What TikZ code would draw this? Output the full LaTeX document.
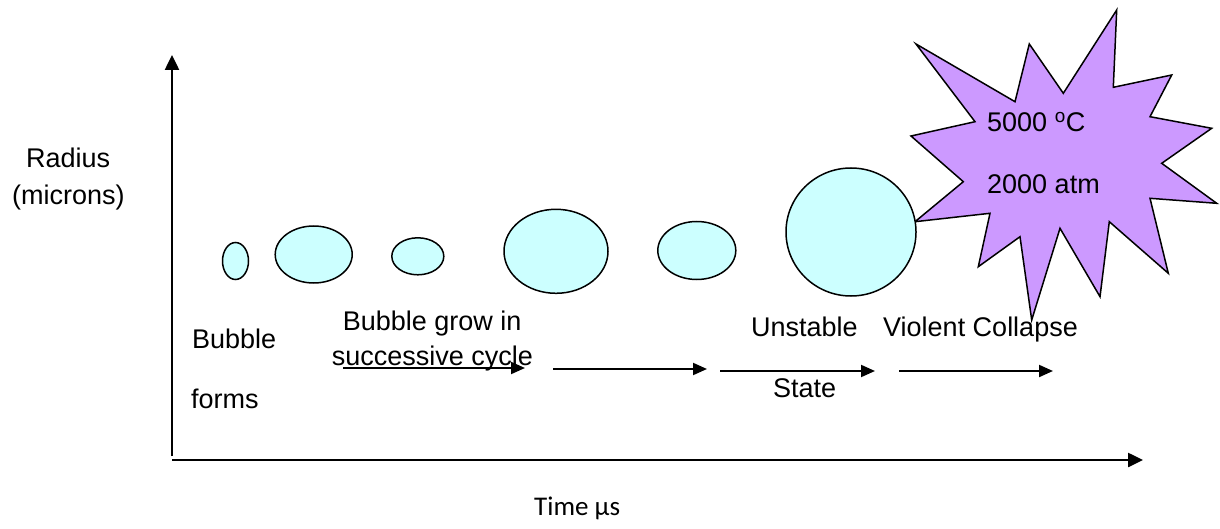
\documentclass[tikz,border=0pt]{standalone}
\usepackage{fontspec}
\setmainfont{Liberation Sans}
\newfontfamily\calibri{Carlito}
\usetikzlibrary{shapes.geometric,arrows.meta}

\definecolor{bubblecyan}{HTML}{CCFFFF}
\definecolor{burstviolet}{HTML}{CC99FF}

\tikzset{
  bubble/.style={ellipse, draw, line width=1.5pt, fill=bubblecyan, inner sep=0pt},
  burst/.style={draw, line width=1.5pt, fill=burstviolet, line join=miter},
  flow/.style={line width=2pt, -{Triangle[length=14pt,width=12pt]}},
  axis/.style={line width=2.5pt, -{Triangle[length=15pt,width=14pt]}},
  lbl/.style={anchor=base west, inner sep=0pt, font=\fontsize{27}{32}\selectfont}
}

\begin{document}
\begin{tikzpicture}[x=1pt, y=-1pt]
    \useasboundingbox (0,0) rectangle (1220,529);

    \coordinate (origin) at (172,460);
    \coordinate (ytop) at (172,55);
    \coordinate (ybot) at (172,456);
    \coordinate (xend) at (1143,460);
    \draw[axis] (ybot) -- (ytop);
    \draw[axis] (origin) -- (xend);

    \node[lbl] (radius) at (26,168) {Radius};
    \node[lbl] (microns) at (12,205) {(microns)};
    \node[lbl, font=\calibri\fontsize{27}{32}\selectfont] (time) at (534,515) {Time µs};

    \draw[burst] (915,221.7) -- (990,213.3) -- (978.3,266.7) -- (1020,236.7)
        -- (1031.7,320) -- (1060,228.3) -- (1100,296.7) -- (1109.3,221.7)
        -- (1168.3,273.3) -- (1150,198.3) -- (1216.7,203.3) -- (1161.7,163.3)
        -- (1211.7,128.3) -- (1150,116.7) -- (1171.7,75) -- (1113.3,87.3)
        -- (1116.7,10) -- (1063.3,93.3) -- (1029.3,44) -- (1015,101.7)
        -- (916,44) -- (975,121.7) -- (911,136) -- (963.3,181.7) -- cycle;

    \node[bubble, minimum width=26pt, minimum height=37pt] (b1) at (235.5,261) {};
    \node[bubble, minimum width=77pt, minimum height=57pt] (b2) at (313.7,254.5) {};
    \node[bubble, minimum width=52pt, minimum height=37pt] (b3) at (417.8,256.3) {};
    \node[bubble, minimum width=104pt, minimum height=84pt] (b4) at (556,251.3) {};
    \node[bubble, minimum width=78pt, minimum height=58pt] (b5) at (696.8,250.5) {};
    \node[bubble, minimum width=130pt, minimum height=128pt] (b6) at (851,232) {};

    \node[lbl] (temp) at (987,131.7) {5000 \textsuperscript{o}C};
    \node[lbl] (press) at (987,193.3) {2000 atm};

    \node[lbl] (forms1) at (192,348.3) {Bubble};
    \node[lbl] (forms2) at (191,408) {forms};
    \node[lbl] (grow1) at (342.7,330) {Bubble grow in};
    \node[lbl] (grow2) at (331.7,365.7) {successive cycle};
    \node[lbl] (unst1) at (751,336) {Unstable};
    \node[lbl] (unst2) at (773,397) {State};
    \node[lbl] (coll) at (883,336) {Violent Collapse};

    \coordinate (a1s) at (343,368);
    \coordinate (a1e) at (525,368);
    \coordinate (a2s) at (553,369);
    \coordinate (a2e) at (707,369);
    \coordinate (a3s) at (720,371);
    \coordinate (a3e) at (875,371);
    \coordinate (a4s) at (899,371);
    \coordinate (a4e) at (1053,371);
    \draw[flow] (a1s) -- (a1e);
    \draw[flow] (a2s) -- (a2e);
    \draw[flow] (a3s) -- (a3e);
    \draw[flow] (a4s) -- (a4e);
\end{tikzpicture}
\end{document}
